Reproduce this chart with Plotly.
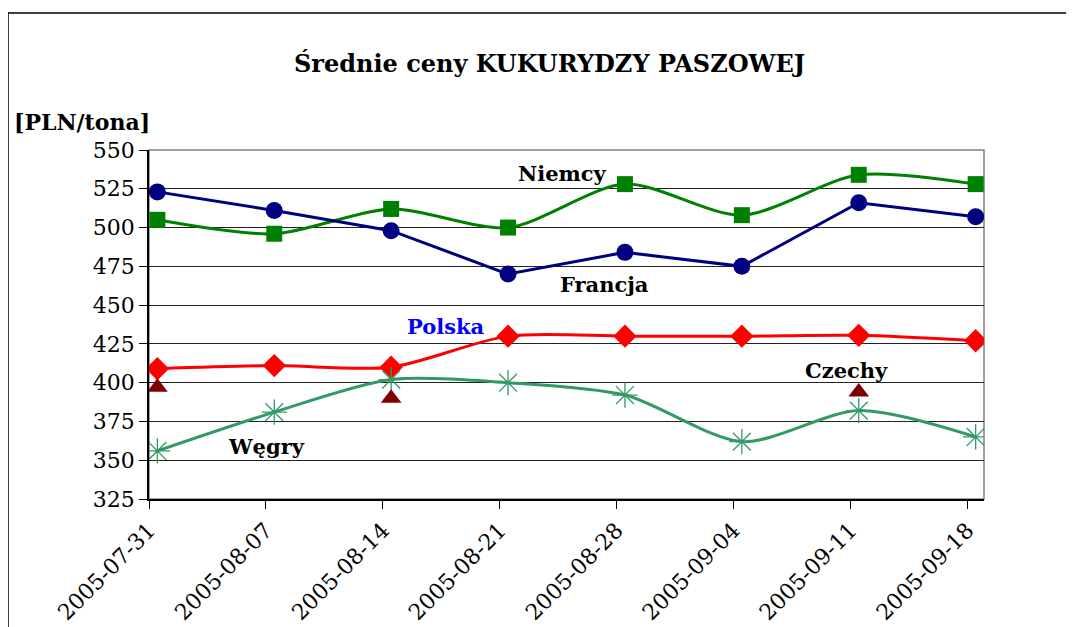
import pandas as pd
import plotly.graph_objects as go

dates = ["2005-07-31", "2005-08-07", "2005-08-14", "2005-08-21",
         "2005-08-28", "2005-09-04", "2005-09-11", "2005-09-18"]
francja = [523, 511, 498, 470, 484, 475, 516, 507]
niemcy = [505, 496, 512, 500, 528, 508, 534, 528]
polska = [409, 411, 410, 430, 430, 430, 430.5, 427]
wegry = [356, 381, 402, 400, 392, 362, 382, 365]
czechy = [397, None, 390, None, None, None, 394, None]

# observations sit mid-day on each weekly date
x = pd.to_datetime(dates) + pd.Timedelta(hours=12)

SERIF = "DejaVu Serif"

fig = go.Figure()
fig.add_trace(go.Scatter(x=x, y=niemcy, name="Niemcy", mode="lines+markers",
                         line=dict(color="#008000", width=3, shape="spline", smoothing=0.8),
                         marker=dict(symbol="square", size=16, color="#008000")))
fig.add_trace(go.Scatter(x=x, y=francja, name="Francja", mode="lines+markers",
                         line=dict(color="#000080", width=3),
                         marker=dict(symbol="circle", size=17, color="#000080")))
fig.add_trace(go.Scatter(x=x, y=polska, name="Polska", mode="lines+markers",
                         line=dict(color="#FF0000", width=3, shape="spline", smoothing=0.8),
                         marker=dict(symbol="diamond", size=18, color="#FF0000")))
fig.add_trace(go.Scatter(x=x, y=wegry, name="Węgry", mode="lines+markers",
                         line=dict(color="#339966", width=3, shape="spline", smoothing=0.8),
                         marker=dict(symbol="asterisk-open", size=21,
                                     line=dict(color="#339966", width=1.3))))
fig.add_trace(go.Scatter(x=x, y=czechy, name="Czechy", mode="markers",
                         marker=dict(symbol="triangle-up", size=18, color="#800000")))

# page body adds an 8px offset; layout numbers below are in picture pixels
OFF = 8
W, H = 1074 - 2 * OFF, 627 - OFF
PL, PR, PT, PB = 149, 984, 150, 499  # plot area edges in picture pixels
ML, MT = PL - OFF, PT - OFF
MR = W - (PR - OFF)
MB = H - (PB - OFF)
PW, PH = PR - PL, PB - PT


def px(xp):
    return (xp - PL) / PW


def py(yp):
    return (PB - yp) / PH


labels = [("Niemcy", 562, 173, "black"), ("Francja", 604, 284, "black"),
          ("Polska", 446, 326, "#0000FF"), ("Czechy", 846, 370, "black"),
          ("Węgry", 266, 446, "black")]
annotations = [dict(text=f"<b>{t}</b>", x=px(a), y=py(b), xref="paper", yref="paper",
                    xanchor="center", yanchor="middle",
                    showarrow=False, font=dict(family=SERIF, size=21, color=c))
               for t, a, b, c in labels]
annotations.append(dict(text="<b>[PLN/tona]</b>", x=px(12), y=py(122), xref="paper",
                        yref="paper", xanchor="left", yanchor="middle", showarrow=False,
                        font=dict(family=SERIF, size=22, color="black")))
annotations.append(dict(text="<b>Średnie ceny KUKURYDZY PASZOWEJ</b>", x=px(549.5), y=py(63),
                        xref="paper", yref="paper", xanchor="center", yanchor="middle",
                        showarrow=False,
                        font=dict(family=SERIF, size=24, color="black")))

shapes = [
    dict(type="rect", xref="paper", yref="paper", x0=0, x1=1, y0=0, y1=1,
         line=dict(color="#808080", width=1.5), layer="below"),
    dict(type="rect", xref="paper", yref="paper", x0=px(8), x1=px(1100), y0=py(660), y1=py(13),
         line=dict(color="black", width=1.5), layer="below"),
]

fig.update_layout(
    width=W, height=H,
    margin=dict(l=ML, r=MR, t=MT, b=MB, autoexpand=False),
    paper_bgcolor="white", plot_bgcolor="white",
    showlegend=False,
    annotations=annotations,
    shapes=shapes,
    xaxis=dict(type="date", range=["2005-07-31", "2005-09-19"], tickvals=dates, ticktext=dates,
               tickangle=-45, ticks="outside", ticklen=8, tickcolor="black",
               showline=True, linecolor="black", linewidth=1.5, showgrid=False,
               zeroline=False, tickfont=dict(family=SERIF, size=22, color="black")),
    yaxis=dict(range=[325, 550], dtick=25, tick0=325, ticks="outside", ticklen=8,
               tickcolor="black", showline=True, linecolor="black", linewidth=1.5,
               showgrid=True, gridcolor="#222222", gridwidth=1, zeroline=False,
               tickfont=dict(family=SERIF, size=22, color="black")),
)

fig.write_html("out.html")
